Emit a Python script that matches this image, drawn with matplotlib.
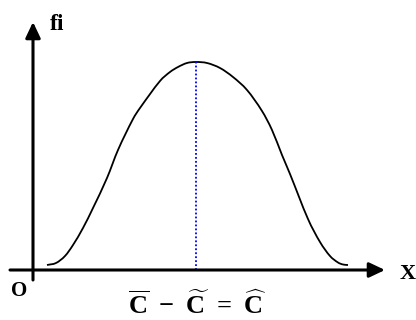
import matplotlib
matplotlib.use('Agg')
import matplotlib.pyplot as plt
from matplotlib.path import Path
from matplotlib.patches import PathPatch

# frequency curve (fi against X), read point by point
curve_x = [14, 23, 32, 40, 50, 60, 74, 85, 100, 107, 127, 137, 145, 154, 163,
           174, 187, 200, 214, 229, 239, 249, 257, 275, 287, 297, 305, 310, 315]
curve_y = [5, 7, 14, 25, 42, 62, 92, 120, 151, 162, 189, 198, 203, 207, 208,
           207, 202, 193, 180, 159, 140, 115, 96, 51, 28, 14, 7.5, 5.5, 5]
peak_x = 163
peak_y = 208

y_label = 'fi'
x_label = 'X'
origin_label = 'O'
equation = r'$\overline{\mathbf{C}}\ -\ \widetilde{\mathbf{C}}\ =\ \widehat{\mathbf{C}}$'

plt.rcParams['mathtext.fontset'] = 'custom'
plt.rcParams['mathtext.bf'] = 'Liberation Serif:bold'
plt.rcParams['mathtext.rm'] = 'Liberation Serif:bold'
plt.rcParams['mathtext.it'] = 'Liberation Serif:bold'


def smooth_path(xs, ys):
    # Hermite curve through the points (slope at each point from its
    # neighbours), drawn as cubic Bezier segments
    n = len(xs)
    slopes = []
    for i in range(n):
        a, b = max(i - 1, 0), min(i + 1, n - 1)
        slopes.append((ys[b] - ys[a]) / (xs[b] - xs[a]))
    verts = [(xs[0], ys[0])]
    codes = [Path.MOVETO]
    for i in range(n - 1):
        dx = (xs[i + 1] - xs[i]) / 3
        verts += [(xs[i] + dx, ys[i] + slopes[i] * dx),
                  (xs[i + 1] - dx, ys[i + 1] - slopes[i + 1] * dx),
                  (xs[i + 1], ys[i + 1])]
        codes += [Path.CURVE4] * 3
    return Path(verts, codes)


fig = plt.figure(figsize=(4.16, 3.2), dpi=100)
ax = fig.add_axes([0, 0, 1, 1])
ax.set_xlim(-33, 383)
ax.set_ylim(-50, 270)
ax.axis('off')

# axes with arrow heads
arrow = dict(arrowstyle='-|>,head_length=0.95,head_width=0.45', lw=2.2,
             color='black', shrinkA=0, shrinkB=0, mutation_scale=10)
ax.annotate('', xy=(352, 0), xytext=(-23, 0), arrowprops=arrow)
ax.annotate('', xy=(0, 248), xytext=(0, -10), arrowprops=arrow)

# the curve and the line through its top
ax.add_patch(PathPatch(smooth_path(curve_x, curve_y), facecolor='none',
                       edgecolor='black', lw=1.3))
ax.plot([peak_x, peak_x], [0, peak_y], color='blue', lw=1.3, ls=(0, (1, 1.2)))

font = dict(family='Liberation Serif', weight='bold', color='black')
ax.text(24, 246, y_label, fontsize=17, ha='center', va='center', **font)
ax.text(375, -4, x_label, fontsize=16, ha='center', va='center', **font)
ax.text(-14, -21, origin_label, fontsize=15, ha='center', va='center', **font)
ax.text(164, -44, equation, fontsize=19, ha='center', va='baseline', **font)

fig.savefig('out.png', dpi=100)
